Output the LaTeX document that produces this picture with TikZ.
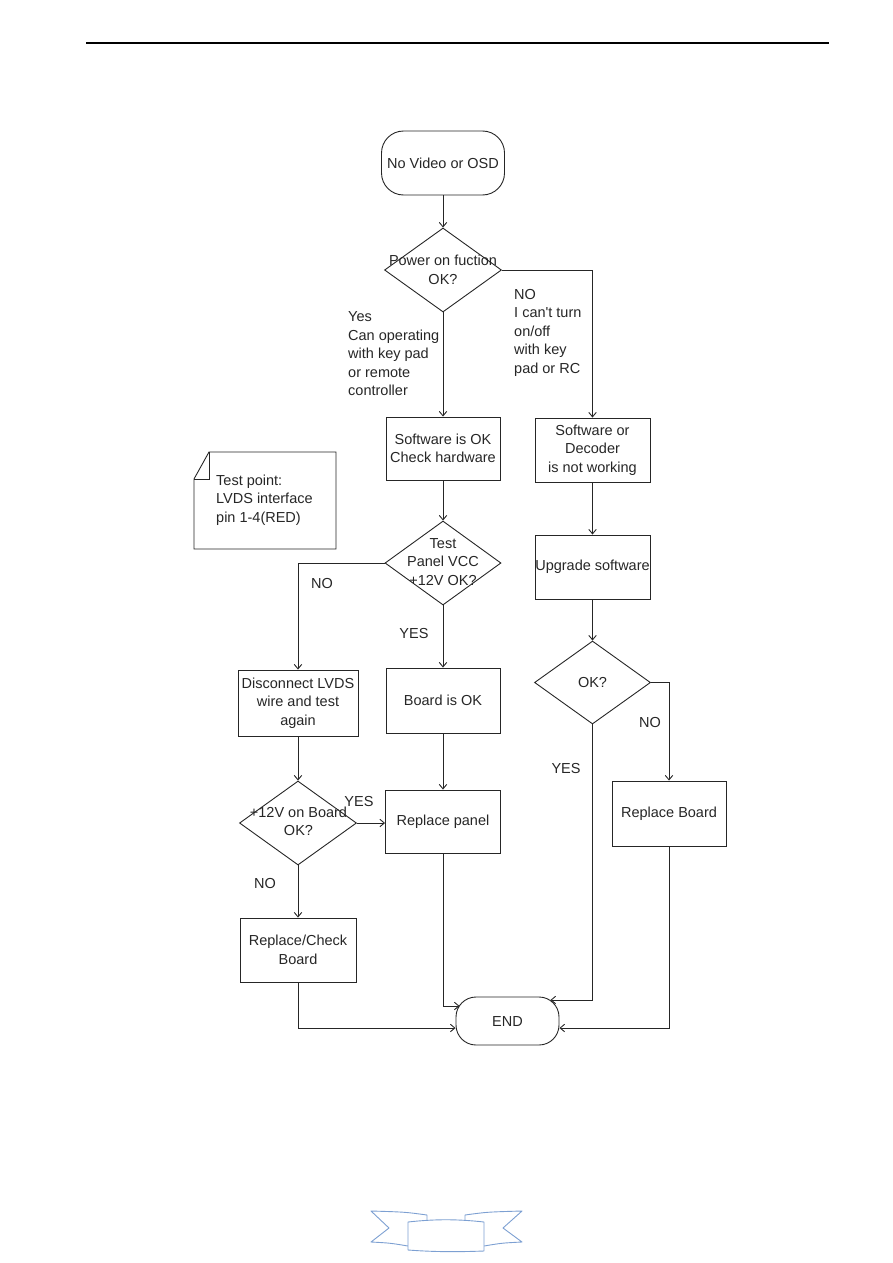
\documentclass[tikz,border=0pt]{standalone}
\usepackage{fontspec}
\setmainfont{Liberation Sans}[Ligatures=TeXOff]
\usetikzlibrary{shapes.geometric,arrows.meta,calc}
\definecolor{ribbon}{RGB}{125,160,210}
\begin{document}
\begin{tikzpicture}[x=1pt,y=-1pt,
  every node/.style={font=\fontsize{14.5}{18.5}\selectfont, text=black!85},
  ln/.style={draw=black!85, line width=0.9pt},
  arr/.style={ln, -{Straight Barb[length=4.5pt,width=7.5pt]}},
  box/.style={ln, rectangle, inner sep=0pt, align=center},
  dec/.style={ln, diamond, inner sep=0pt},
  term/.style={ln, rectangle, rounded corners=22pt, inner sep=0pt},
  txt/.style={inner sep=0pt, align=center},
  lbl/.style={inner sep=0pt, align=left},
  rib/.style={draw=ribbon, line width=0.9pt, line join=round},
]
\useasboundingbox (0,0) rectangle (893,1263);

% header rule
\draw[line width=1.2pt] (86,43) -- (829,43);

% nodes
\node[term, minimum width=123, minimum height=64] (start) at (443,163) {No Video or OSD};
\node[dec, minimum width=117, minimum height=84] (d1) at (443,270) {};
\node[txt] (t1) at (d1) {Power on fuction\\OK?};
\node[box, minimum width=114, minimum height=63] (swok) at (443,448.5) {Software is OK\\Check hardware};
\node[box, minimum width=115, minimum height=64] (swnw) at (592.5,450) {Software or\\Decoder\\is not working};
\node[dec, minimum width=116, minimum height=84] (d2) at (443,563) {};
\node[txt] (t2) at (443,562) {Test\\Panel VCC\\+12V OK?};
\node[box, minimum width=114, minimum height=65] (bok) at (443,700.5) {Board is OK};
\node[box, minimum width=120, minimum height=66] (disc) at (298,703) {Disconnect LVDS\\wire and test\\again};
\node[box, minimum width=115, minimum height=63] (rp) at (443,821.5) {Replace panel};
\node[dec, minimum width=117, minimum height=84] (d3) at (298,823) {};
\node[txt] (t3) at (298.5,821.5) {+12V on Board\\OK?};
\node[box, minimum width=116, minimum height=64] (rcb) at (298,950) {Replace/Check\\Board};
\node[term, rounded corners=20pt, minimum width=103, minimum height=48] (end) at (507.5,1021) {END};
\node[box, minimum width=115, minimum height=64] (up) at (592.5,567) {Upgrade software};
\node[dec, minimum width=116, minimum height=83] (d4) at (592.5,682.5) {};
\node[txt] (t4) at (d4) {OK?};
\node[box, minimum width=114, minimum height=65] (rb) at (669,813.5) {Replace Board};

% note
\draw[ln, line join=miter] (209,452) -- (336,452) -- (336,549) -- (194,549) -- (194,479) -- cycle;
\draw[ln] (194,479) -- (209,479) -- (209,452);
\node[lbl, anchor=west] (note) at (216,500) {Test point:\\LVDS interface\\pin 1-4(RED)};

% connectors
\draw[arr] (start.south) -- (d1.north);
\draw[arr] (d1.south) -- (swok.north);
\draw[arr] (d1.east) -| (swnw.north);
\draw[arr] (swok.south) -- (d2.north);
\draw[arr] (swnw.south) -- (up.north);
\draw[arr] (up.south) -- (d4.north);
\draw[arr] (d2.west) -| (disc.north);
\draw[arr] (d2.south) -- (bok.north);
\draw[arr] (bok.south) -- (rp.north);
\draw[arr] (disc.south) -- (d3.north);
\draw[arr] (d3.east) -- (d3.east -| rp.west);
\draw[arr] (d3.south) -- (rcb.north);
\draw[arr] (d4.east) -| (rb.north);
\draw[arr] (rcb.south) |- ([yshift=-7pt]end.west);
\draw[arr] (rp.south) |- ([xshift=4pt,yshift=15pt]end.west);
\draw[arr] (d4.south) |- ([xshift=-9pt,yshift=21pt]end.east);
\draw[arr] (rb.south) |- ([yshift=-7pt]end.east);

% labels
\node[lbl, anchor=west] (lyes1) at (348,354) {Yes\\Can operating\\with key pad\\or remote\\controller};
\node[lbl, anchor=west] (lno1) at (514,332.5) {NO\\I can't turn\\on/off\\with key\\pad or RC};
\node[lbl] (lno2) at (322,584) {NO};
\node[lbl] (lyes2) at (414,634) {YES};
\node[lbl] (lyes3) at (359,801) {YES};
\node[lbl] (lno3) at (265,883) {NO};
\node[lbl] (lno4) at (650,722) {NO};
\node[lbl] (lyes4) at (566,768) {YES};

% ribbon
\draw[rib] (427,1222) -- (427,1215) .. controls (405,1212) .. (371,1211) -- (389,1228) -- (371,1242) .. controls (390,1243) .. (408,1246);
\draw[rib] (465,1222) -- (465,1215) .. controls (487,1212) .. (522,1211) -- (503,1228) -- (522,1242) .. controls (502,1243) .. (484,1246);
\draw[rib, fill=white] (408,1222) .. controls (435,1219) and (457,1219) .. (484,1222) -- (484,1251) .. controls (457,1252) and (435,1252) .. (408,1250) -- cycle;
\end{tikzpicture}
\end{document}
